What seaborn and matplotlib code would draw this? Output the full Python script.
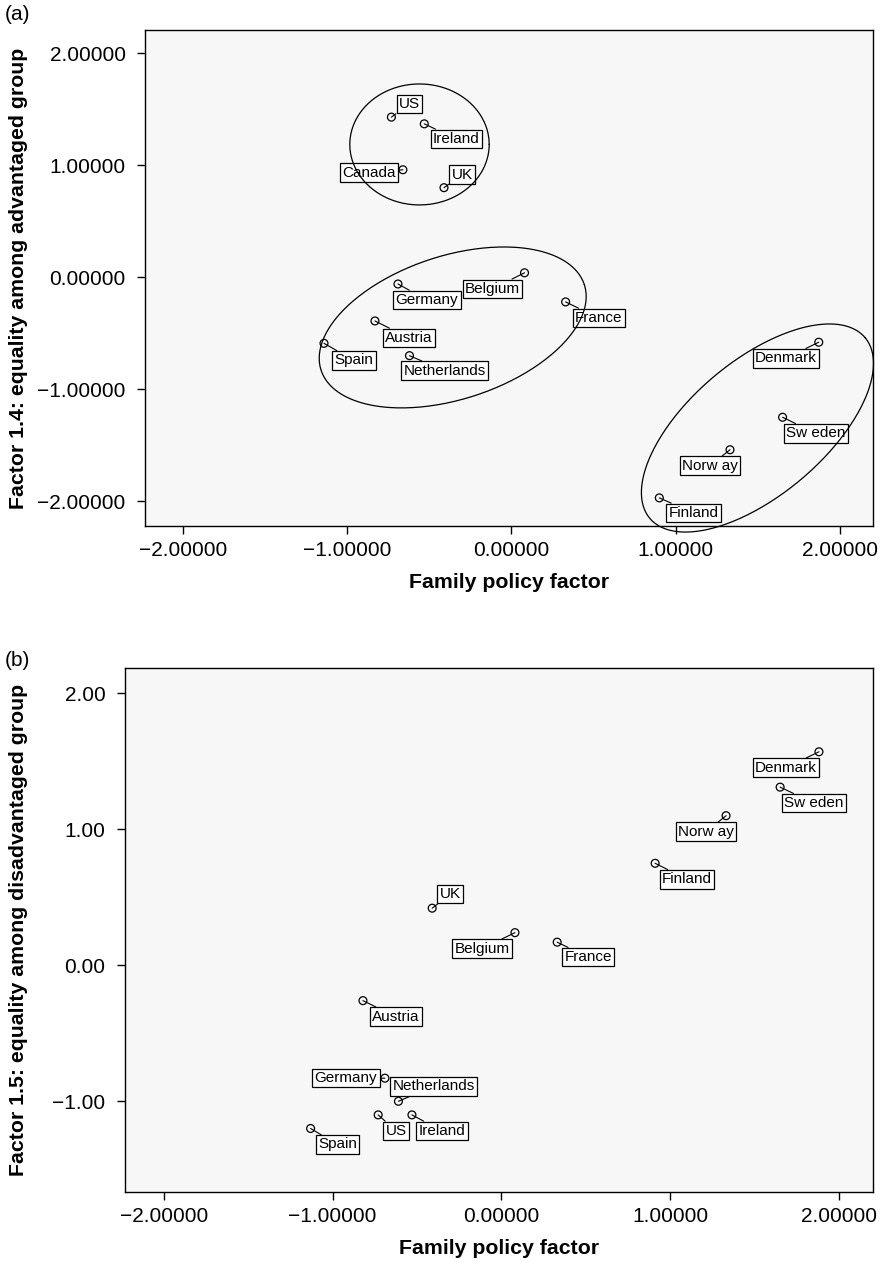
import numpy as np
import matplotlib
matplotlib.use('Agg')
import matplotlib.pyplot as plt
import seaborn as sns
from matplotlib.ticker import FuncFormatter, FixedLocator

# (a) family policy factor vs factor 1.4 (advantaged group)
countries_a = ['US', 'Ireland', 'Canada', 'UK', 'Germany', 'Belgium', 'France',
               'Austria', 'Spain', 'Netherlands', 'Denmark', 'Sw eden', 'Norw ay', 'Finland']
family_a = [-0.73, -0.53, -0.66, -0.41, -0.69, 0.08, 0.33,
            -0.83, -1.14, -0.62, 1.87, 1.65, 1.33, 0.90]
advantaged_a = [1.43, 1.37, 0.96, 0.80, -0.06, 0.04, -0.22,
                -0.39, -0.59, -0.70, -0.58, -1.25, -1.54, -1.97]

# (b) family policy factor vs factor 1.5 (disadvantaged group)
countries_b = ['Denmark', 'Sw eden', 'Norw ay', 'Finland', 'UK', 'Belgium', 'France',
               'Austria', 'Germany', 'Netherlands', 'US', 'Ireland', 'Spain']
family_b = [1.88, 1.65, 1.33, 0.91, -0.41, 0.08, 0.33,
            -0.82, -0.69, -0.61, -0.73, -0.53, -1.13]
disadvantaged_b = [1.57, 1.31, 1.10, 0.75, 0.42, 0.24, 0.17,
                   -0.26, -0.83, -1.00, -1.10, -1.10, -1.20]

# label box offsets from the point, in pixels (dx right, dy up)
offsets_a = {'US': (18, 13), 'Ireland': (32, -15), 'Canada': (-34, -3), 'UK': (18, 13),
             'Germany': (29, -16), 'Belgium': (-32, -16), 'France': (33, -16),
             'Austria': (34, -17), 'Spain': (30, -17), 'Netherlands': (35, -15),
             'Denmark': (-33, -16), 'Sw eden': (33, -16), 'Norw ay': (-20, -16),
             'Finland': (34, -15)}
offsets_b = {'Denmark': (-33, -16), 'Sw eden': (34, -16), 'Norw ay': (-20, -16),
             'Finland': (32, -16), 'UK': (18, 14), 'Belgium': (-33, -16),
             'France': (31, -15), 'Austria': (33, -16), 'Germany': (-39, 0),
             'Netherlands': (35, 15), 'US': (18, -16), 'Ireland': (30, -16),
             'Spain': (27, -16)}

# cluster ellipses in panel (a): centre x, centre y, semi axes (x units), angle (deg on screen)
clusters_a = [(-0.559, 1.186, 0.424, 0.368, 0),
              (-0.357, -0.448, 0.842, 0.436, 18),
              (1.497, -1.346, 0.855, 0.410, 40)]

W, H = 880, 1263
sns.set_style('ticks')
plt.rcParams['font.family'] = ['Liberation Sans', 'DejaVu Sans']
plt.rcParams['axes.unicode_minus'] = True
for key in ['text.color', 'axes.labelcolor', 'xtick.color', 'ytick.color', 'axes.edgecolor']:
    plt.rcParams[key] = 'black'

fig = plt.figure(figsize=(W / 100, H / 100), dpi=100)
ax_a = fig.add_axes([145 / W, 1 - 526 / H, 728 / W, 496 / H])
ax_b = fig.add_axes([125 / W, 1 - 1192 / H, 748 / W, 524 / H])


def fmt(decimals):
    return FuncFormatter(lambda v, p: f'{v:.{decimals}f}'.replace('-', '\u2212'))


def style_axes(ax, ylim, yticks, ydec, ylabel, label_x):
    ax.set_facecolor('#f7f7f7')
    ax.set_xlim(-2.229, 2.200)
    ax.set_ylim(*ylim)
    ax.xaxis.set_major_locator(FixedLocator([-2, -1, 0, 1, 2]))
    ax.yaxis.set_major_locator(FixedLocator(yticks))
    ax.xaxis.set_major_formatter(fmt(5))
    ax.yaxis.set_major_formatter(fmt(ydec))
    for s in ax.spines.values():
        s.set_visible(True)
        s.set_linewidth(1.0)
        s.set_color('black')
    ax.tick_params(axis='both', length=6, width=1.0, color='black',
                   labelcolor='black', labelsize=15)
    ax.tick_params(axis='x', pad=5)
    ax.tick_params(axis='y', pad=8)
    ax.set_xlabel('Family policy factor', fontsize=15.3, fontweight='bold', labelpad=9)
    ax.set_ylabel(ylabel, fontsize=15.3, fontweight='bold')
    ax.yaxis.set_label_coords(label_x, 0.5)
    ax.grid(False)


def draw_points(ax, xs, ys, names, offsets):
    sns.scatterplot(x=xs, y=ys, ax=ax, marker='o', s=32, facecolor='none',
                    edgecolor='black', linewidth=0.9, zorder=3)
    for x, y, name in zip(xs, ys, names):
        ax.annotate(name, xy=(x, y), xytext=offsets[name], textcoords='offset pixels',
                    ha='center', va='center', fontsize=11, zorder=4,
                    bbox=dict(boxstyle='square,pad=0.15', fc='white', ec='black', lw=0.9),
                    arrowprops=dict(arrowstyle='-', lw=0.8, color='black',
                                    shrinkA=0, shrinkB=0))


def draw_ellipse(ax, cx, cy, a, b, angle):
    x0, x1 = ax.get_xlim()
    y0, y1 = ax.get_ylim()
    bb = ax.get_position()
    sx = bb.width * W / (x1 - x0)
    sy = bb.height * H / (y1 - y0)
    t = np.linspace(0, 2 * np.pi, 300)
    th = np.deg2rad(angle)
    ux = a * sx * (np.cos(t) * np.cos(th)) - b * sx * (np.sin(t) * np.sin(th))
    uy = a * sx * (np.cos(t) * np.sin(th)) + b * sx * (np.sin(t) * np.cos(th))
    ax.plot(cx + ux / sx, cy + uy / sy, color='black', lw=0.9, zorder=5, clip_on=False)


style_axes(ax_a, (-2.221, 2.208), [-2, -1, 0, 1, 2], 5,
           'Factor 1.4: equality among advantaged group', (28 - 145) / 728)
style_axes(ax_b, (-1.667, 2.186), [-1, 0, 1, 2], 2,
           'Factor 1.5: equality among disadvantaged group', (28 - 125) / 748)

draw_points(ax_a, family_a, advantaged_a, countries_a, offsets_a)
draw_points(ax_b, family_b, disadvantaged_b, countries_b, offsets_b)
for c in clusters_a:
    draw_ellipse(ax_a, *c)

fig.text(5 / W, 1 - 5 / H, '(a)', fontsize=15, va='top', ha='left')
fig.text(5 / W, 1 - 651 / H, '(b)', fontsize=15, va='top', ha='left')

fig.savefig('out.png', dpi=100)
